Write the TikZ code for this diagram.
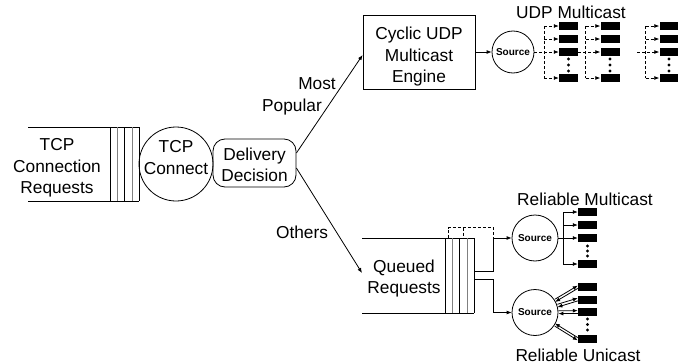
\documentclass[tikz,border=0pt]{standalone}
\usepackage{fontspec}
\setmainfont{Liberation Sans}
\usetikzlibrary{arrows.meta,calc}
\begin{document}
\begin{tikzpicture}[x=1pt,y=-1pt,
  every node/.style={font=\fontsize{17.3}{21.5}\selectfont, align=center, inner sep=0pt},
  line/.style={line width=0.8pt},
  arr/.style={line width=0.8pt,-{Latex[length=5pt,width=4pt]}},
  darr/.style={line width=0.8pt,dash pattern=on 3pt off 2pt,-{Latex[length=5pt,width=4pt]}},
  dline/.style={line width=0.8pt,dash pattern=on 3pt off 2pt},
  srcnode/.style={circle,draw,line width=0.8pt,minimum size=44pt,font=\fontsize{10}{12}\selectfont\bfseries},
  rx/.style={fill=black,minimum width=19pt,minimum height=8pt},
  dotn/.style={circle,fill=black,minimum size=3.4pt},
  lbl/.style={anchor=base},
]
\useasboundingbox (0,0) rectangle (678,364);

% --- TCP connection request queue
\node (tcpreq) at (57,168) {TCP\\Connection\\Requests};
\draw[line] (28,127) -- (139,127);
\draw[line] (28,201) -- (139,201);
\foreach \x/\c in {110/black,117/gray,124.5/black,132/gray,139/black}
  \draw[line,\c] (\x,127) -- (\x,201);

% --- TCP connect
\node[circle,draw,line width=0.8pt,minimum size=74pt] (tcpc) at (176,164) {};
\node (tcpct) at (176,157.5) {TCP\\Connect};

% --- Delivery decision
\node[draw,line width=0.8pt,rounded corners=12pt,minimum width=83pt,minimum height=48pt] (dd) at (254.5,163) {};
\node (ddt) at (254.5,165) {Delivery\\Decision};

% --- Cyclic UDP multicast engine
\node[draw,line width=0.8pt,minimum width=112pt,minimum height=74pt] (cyc) at (419,52) {};
\node (cyct) at (419,56.8) {Cyclic UDP\\Multicast\\Engine};

% --- queued requests
\node (qrt) at (404,278.5) {Queued\\Requests};
\coordinate (qin) at (362,273);
\draw[line] (362,238) -- (474,238);
\draw[line] (362,313) -- (474,313);
\foreach \x/\c in {445/black,452/gray,459.5/black,467/gray,474/black}
  \draw[line,\c] (\x,238) -- (\x,313);
\draw[dline] (448.3,238) -- (448.3,227.5) -- (493,227.5) -- (493,238);
\draw[dline] (463.3,227.5) -- (463.3,238);

% --- main arrows
\draw[arr] ([yshift=10pt]dd.east) -- ([yshift=-3pt]cyc.west);
\draw[arr] ([yshift=-5pt]dd.east) -- (qin);
\node[lbl] (most) at (317,89) {Most};
\node[lbl] (pop) at (292,111) {Popular};
\node[lbl] (oth) at (302,238) {Others};

% --- UDP multicast
\node[srcnode,minimum size=42pt] (src1) at (513,52) {Source};
\draw[arr] (cyc.east) -- (src1);
\node[lbl] (udpl) at (571,19) {UDP Multicast};
\foreach \c/\xc in {1/568.5,2/610,3/669}{
  \node[rx] (u\c1) at (\xc,26) {};
  \node[rx] (u\c2) at (\xc,39) {};
  \node[rx] (u\c3) at (\xc,52) {};
  \node[rx] (u\c4) at (\xc,78) {};
  \foreach \yy in {59,65,71} \node[dotn] at (\xc,\yy) {};
}
\coordinate (b1) at (544,0);
\coordinate (b2) at (585.7,0);
\coordinate (b3) at (645.7,0);
\coordinate (b3s) at (637,52);
\draw[darr] (src1) -- (u13.west);
\draw[darr] (u13.east) -- (u23.west);
\draw[darr] (b3s) -- (u33.west);
\foreach \c in {1,2,3}{
  \draw[dline] (b\c |- u\c1) -- (b\c |- u\c4);
  \foreach \r in {1,2,4}
    \draw[darr] (b\c |- u\c\r) -- (u\c\r.west);
}

% --- reliable multicast
\node[srcnode,minimum size=46pt] (srcm) at (535,238) {Source};
\node[lbl] (rml) at (585,205) {Reliable Multicast};
\node[rx] (rm1) at (587.5,212) {};
\node[rx] (rm2) at (587.5,225) {};
\node[rx] (rm3) at (587.5,238) {};
\node[rx] (rm4) at (587.5,264) {};
\foreach \yy in {246,251,256} \node[dotn] at (587.5,\yy) {};
\coordinate (tm) at (563,0);
\draw[arr] (srcm) -- (rm3.west);
\draw[line] (tm |- rm1) -- (tm |- rm4);
\foreach \r in {1,2,4} \draw[arr] (tm |- rm\r) -- (rm\r.west);

% --- reliable unicast
\node[srcnode,minimum size=46pt] (srcu) at (535,312.5) {Source};
\node[lbl] (rul) at (578,361) {Reliable Unicast};
\node[rx] (ru1) at (587.5,287) {};
\node[rx] (ru2) at (587.5,299.5) {};
\node[rx] (ru3) at (587.5,312) {};
\node[rx] (ru4) at (587.5,339) {};
\foreach \yy in {319,324.5,330} \node[dotn] at (587.5,\yy) {};
\foreach \r in {1,2,3}{
  \draw[arr,transform canvas={yshift=1.4pt}] (srcu) -- (ru\r.west);
  \draw[arr,transform canvas={yshift=-1.4pt}] (ru\r.west) -- (srcu);
}
\draw[arr,transform canvas={yshift=-1.4pt}] (srcu) -- (ru4.west);
\draw[arr,transform canvas={yshift=1.4pt}] (ru4.west) -- (srcu);

% --- queue outputs
\coordinate (qo1) at (474,271);
\coordinate (qo2) at (474,279);
\draw[arr] (qo1) -- (493,271) |- (srcm);
\draw[arr] (qo2) -- (493,279) |- (srcu);
\end{tikzpicture}
\end{document}
